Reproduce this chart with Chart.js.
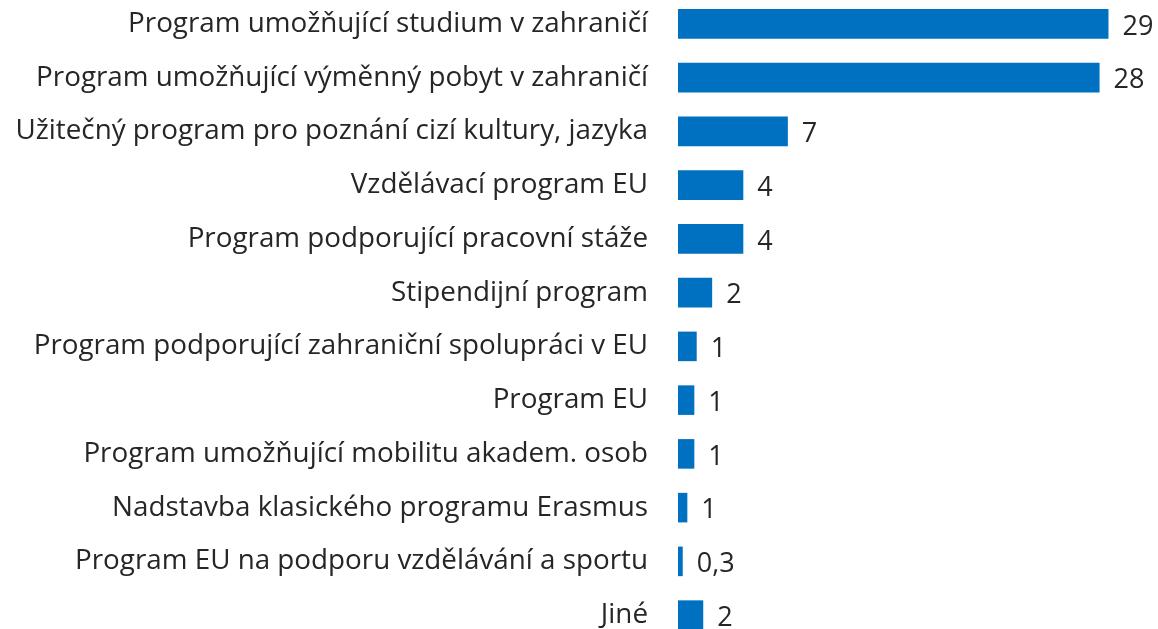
<!DOCTYPE html>
<html>
<head>
<meta charset="utf-8">
<script src="https://cdn.jsdelivr.net/npm/chart.js@4"></script>
<style>
  html, body { margin: 0; padding: 0; background: #fff; overflow: hidden; }
  #wrap { position: absolute; left: 0; top: -3px; width: 1158px; height: 645px; }
</style>
</head>
<body>
<div id="wrap"><canvas id="programs"></canvas></div>
<script>
/* Horizontal bar chart - programme descriptions */
const categories = [
  'Program umožňující studium v zahraničí',
  'Program umožňující výměnný pobyt v zahraničí',
  'Užitečný program pro poznání cizí kultury, jazyka',
  'Vzdělávací program EU',
  'Program podporující pracovní stáže',
  'Stipendijní program',
  'Program podporující zahraniční spolupráci v EU',
  'Program EU',
  'Program umožňující mobilitu akadem. osob',
  'Nadstavba klasického programu Erasmus',
  'Program EU na podporu vzdělávání a sportu',
  'Jiné'
];
const values = [29.0, 28.4, 7.4, 4.4, 4.4, 2.3, 1.26, 1.1, 1.1, 0.63, 0.32, 1.7];

const fmt = v => v < 0.5 ? v.toFixed(1).replace('.', ',') : String(Math.round(v));

const valueLabels = {
  id: 'valueLabels',
  afterDatasetsDraw(chart) {
    const ctx = chart.ctx;
    const meta = chart.getDatasetMeta(0);
    ctx.save();
    ctx.font = '27px "Open Sans"';
    ctx.fillStyle = '#262626';
    ctx.textAlign = 'left';
    ctx.textBaseline = 'middle';
    meta.data.forEach((bar, i) => {
      ctx.fillText(fmt(values[i]), bar.x + 14, bar.y + 3);
    });
    ctx.restore();
  }
};

new Chart(document.getElementById('programs'), {
  type: 'bar',
  data: {
    labels: categories,
    datasets: [{ data: values, backgroundColor: '#0070c0', categoryPercentage: 1, barPercentage: 0.55 }]
  },
  options: {
    indexAxis: 'y',
    responsive: true,
    maintainAspectRatio: false,
    animation: false,
    layout: { padding: { left: 0, right: 5, top: 0, bottom: 0 } },
    plugins: { legend: { display: false }, tooltip: { enabled: false } },
    scales: {
      x: { display: false, min: 0, max: 32 },
      y: {
        grid: { display: false, drawTicks: false },
        border: { display: false },
        ticks: { color: '#262626', padding: 30, font: { family: 'Open Sans', size: 27.8 }, autoSkip: false },
        afterFit(scale) {
          scale.width = 678;
          scale.paddingTop = 0;
          scale.paddingBottom = 0;
        }
      }
    }
  },
  plugins: [valueLabels]
});
</script>
</body>
</html>
